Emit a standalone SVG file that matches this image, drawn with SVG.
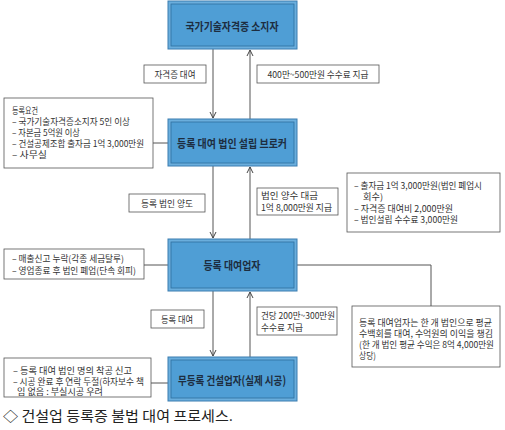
<svg xmlns="http://www.w3.org/2000/svg" width="505" height="430" viewBox="0 0 505 430">
<defs>
<style>
.bo{fill:#6aaedd;stroke:#3a7db0;stroke-width:1}
.bi{fill:#4f9ed5;stroke:#2f6f9f;stroke-width:0.8}
.bt{font-family:"Noto Sans CJK KR","Noto Sans",sans-serif;font-size:11.5px;font-weight:bold;fill:#1d2d40;text-anchor:middle;dominant-baseline:central}
.lb{fill:#fff;stroke:#555;stroke-width:0.8}
.t{font-family:"Noto Sans CJK KR","Noto Sans",sans-serif;font-size:9px;fill:#333;dominant-baseline:central}
.tc{text-anchor:middle}
.ln{fill:none;stroke:#555;stroke-width:1}
.ah{fill:none;stroke:#444;stroke-width:1}
.cap{font-family:"Noto Sans CJK KR","Noto Sans",sans-serif;font-size:13.5px;fill:#222;dominant-baseline:central}
</style>
</defs>
<rect width="505" height="430" fill="#fff"/>

<g id="connectors">
<path class="ln" d="M213,49 V118"/>
<path class="ah" d="M210,112 L213,118 L216,112"/>
<path class="ln" d="M250,119 V50"/>
<path class="ah" d="M247,56 L250,50 L253,56"/>
<path class="ln" d="M213,166 V238"/>
<path class="ah" d="M210,232 L213,238 L216,232"/>
<path class="ln" d="M250,239 V167"/>
<path class="ah" d="M247,173 L250,167 L253,173"/>
<path class="ln" d="M213,291 V356"/>
<path class="ah" d="M210,350 L213,356 L216,350"/>
<path class="ln" d="M250,357 V292"/>
<path class="ah" d="M247,298 L250,292 L253,298"/>
<path class="ln" d="M153,143 H168"/>
<path class="ln" d="M144,265 H168"/>
<path class="ln" d="M151,383 H168"/>
<path class="ln" d="M297,265 H431 V306"/>
</g>

<g id="node1">
<rect class="bo" x="168" y="1" width="129" height="48"/>
<rect class="bi" x="171" y="4" width="123" height="42"/>
<text class="bt" x="232" y="26" textLength="93" lengthAdjust="spacingAndGlyphs">국가기술자격증 소지자</text>
</g>

<g id="node2">
<rect class="bo" x="168" y="119" width="129" height="47"/>
<rect class="bi" x="171" y="122" width="123" height="41"/>
<text class="bt" x="232" y="143" textLength="110" lengthAdjust="spacingAndGlyphs">등록 대여 법인 설립 브로커</text>
</g>

<g id="node3">
<rect class="bo" x="168" y="239" width="129" height="52"/>
<rect class="bi" x="171" y="242" width="123" height="46"/>
<text class="bt" x="232" y="265" textLength="57" lengthAdjust="spacingAndGlyphs">등록 대여업자</text>
</g>

<g id="node4">
<rect class="bo" x="168" y="357" width="129" height="44"/>
<rect class="bi" x="171" y="360" width="123" height="38"/>
<text class="bt" x="232" y="380" textLength="108" lengthAdjust="spacingAndGlyphs">무등록 건설업자(실제 시공)</text>
</g>

<g id="label-lend-cert">
<rect class="lb" x="144" y="65" width="62" height="18"/>
<text class="t tc" x="175" y="74" textLength="41" lengthAdjust="spacingAndGlyphs">자격증 대여</text>
</g>

<g id="label-fee1">
<rect class="lb" x="257" y="65" width="122" height="18"/>
<text class="t tc" x="318" y="74" textLength="101" lengthAdjust="spacingAndGlyphs">400만~500만원 수수료 지급</text>
</g>

<g id="note-requirements">
<rect class="lb" x="4" y="98" width="149" height="70"/>
<text class="t" x="12" y="110" textLength="26" lengthAdjust="spacingAndGlyphs">등록요건</text>
<text class="t" x="12" y="121" textLength="118" lengthAdjust="spacingAndGlyphs">– 국가기술자격증소지자 5인 이상</text>
<text class="t" x="12" y="132" textLength="68" lengthAdjust="spacingAndGlyphs">– 자본금 5억원 이상</text>
<text class="t" x="12" y="143" textLength="132" lengthAdjust="spacingAndGlyphs">– 건설공제조합 출자금 1억 3,000만원</text>
<text class="t" x="12" y="154" textLength="35" lengthAdjust="spacingAndGlyphs">– 사무실</text>
</g>

<g id="note-broker-costs">
<rect class="lb" x="347" y="173" width="153" height="59"/>
<text class="t" x="354" y="185" textLength="128" lengthAdjust="spacingAndGlyphs">– 출자금 1억 3,000만원(법인 폐업시</text>
<text class="t" x="363" y="196" textLength="20" lengthAdjust="spacingAndGlyphs">회수)</text>
<text class="t" x="354" y="208" textLength="99" lengthAdjust="spacingAndGlyphs">– 자격증 대여비 2,000만원</text>
<text class="t" x="354" y="219" textLength="104" lengthAdjust="spacingAndGlyphs">– 법인설립 수수료 3,000만원</text>
</g>

<g id="label-transfer">
<rect class="lb" x="129" y="194" width="76" height="18"/>
<text class="t tc" x="167" y="203" textLength="52" lengthAdjust="spacingAndGlyphs">등록 법인 양도</text>
</g>

<g id="label-purchase">
<rect class="lb" x="257" y="188" width="81" height="27"/>
<text class="t" x="261" y="195" textLength="57" lengthAdjust="spacingAndGlyphs">법인 양수 대금</text>
<text class="t" x="261" y="207" textLength="71" lengthAdjust="spacingAndGlyphs">1억 8,000만원 지급</text>
</g>

<g id="note-lender-issues">
<rect class="lb" x="4" y="249" width="140" height="30"/>
<text class="t" x="12" y="258" textLength="112" lengthAdjust="spacingAndGlyphs">– 매출신고 누락(각종 세금탈루)</text>
<text class="t" x="12" y="270" textLength="124" lengthAdjust="spacingAndGlyphs">– 영업종료 후 법인 폐업(단속 회피)</text>
</g>

<g id="label-lend-reg">
<rect class="lb" x="151" y="310" width="53" height="18"/>
<text class="t tc" x="177" y="319" textLength="32" lengthAdjust="spacingAndGlyphs">등록 대여</text>
</g>

<g id="label-fee2">
<rect class="lb" x="257" y="307" width="80" height="28"/>
<text class="t" x="261" y="315" textLength="74" lengthAdjust="spacingAndGlyphs">건당 200만~300만원</text>
<text class="t" x="261" y="327" textLength="42" lengthAdjust="spacingAndGlyphs">수수료 지급</text>
</g>

<g id="note-profit">
<rect class="lb" x="352" y="306" width="148" height="61"/>
<text class="t" x="359" y="322" textLength="133" lengthAdjust="spacingAndGlyphs">등록 대여업자는 한 개 법인으로 평균</text>
<text class="t" x="359" y="333" textLength="134" lengthAdjust="spacingAndGlyphs">수백회를 대여, 수억원의 이익을 챙김</text>
<text class="t" x="359" y="344" textLength="135" lengthAdjust="spacingAndGlyphs">(한 개 법인 평균 수익은 8억 4,000만원</text>
<text class="t" x="359" y="355" textLength="17" lengthAdjust="spacingAndGlyphs">상당)</text>
</g>

<g id="note-contractor">
<rect class="lb" x="4" y="358" width="147" height="39"/>
<text class="t" x="13" y="370" textLength="119" lengthAdjust="spacingAndGlyphs">–  등록 대여 법인 명의 착공 신고</text>
<text class="t" x="13" y="381" textLength="131" lengthAdjust="spacingAndGlyphs">– 시공 완료 후 연락 두절(하자보수 책</text>
<text class="t" x="17" y="391" textLength="86" lengthAdjust="spacingAndGlyphs">임 없음 : 부실시공 우려</text>
</g>

<text class="cap" x="3" y="415" textLength="230" lengthAdjust="spacingAndGlyphs">◇ 건설업 등록증 불법 대여 프로세스.</text>
</svg>
